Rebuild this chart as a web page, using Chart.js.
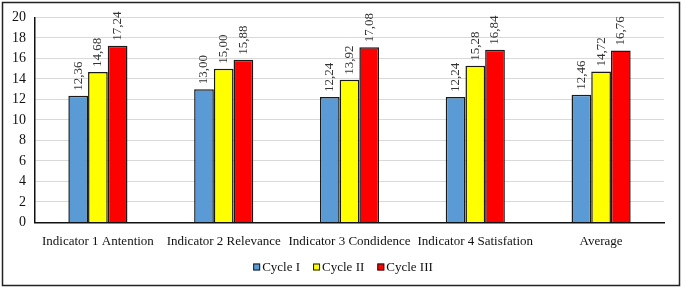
<!DOCTYPE html>
<html><head><meta charset="utf-8">
<script src="https://cdn.jsdelivr.net/npm/chart.js@4/dist/chart.umd.min.js"></script>
<style>html,body{margin:0;padding:0;background:#fff}#wrap{width:684px;height:297px;position:relative}</style>
</head><body><div id="wrap"><canvas id="c" width="684" height="297"></canvas></div>
<script>
const categories = ["Indicator 1 Antention","Indicator 2 Relevance","Indicator 3 Condidence","Indicator 4 Satisfation","Average"];
const seriesNames = ["Cycle I","Cycle II","Cycle III"];
const cycle1 = [12.36, 13.00, 12.24, 12.24, 12.46];
const cycle2 = [14.68, 15.00, 13.92, 15.28, 14.72];
const cycle3 = [17.24, 15.88, 17.08, 16.84, 16.76];
const yTicks = [0,2,4,6,8,10,12,14,16,18,20];
const colors = ["#5b9bd5","#ffff00","#ff0000"];

const frame = {
  id:'frame',
  beforeDraw(chart){
    const ctx=chart.ctx; ctx.save();
    ctx.fillStyle='#fff'; ctx.fillRect(0,0,chart.width,chart.height);
    ctx.strokeStyle='#222'; ctx.lineWidth=1.5;
    ctx.strokeRect(2.5,2.5,677,283);
    ctx.restore();
  }
};
const valueLabels = {
  id:'valueLabels',
  afterDatasetsDraw(chart){
    const ctx=chart.ctx; ctx.save();
    ctx.font='13px "Liberation Serif"'; ctx.fillStyle='#333';
    ctx.textAlign='left'; ctx.textBaseline='middle';
    chart.data.datasets.forEach((ds,i)=>{
      chart.getDatasetMeta(i).data.forEach((bar,j)=>{
        const txt=ds.data[j].toFixed(2).replace('.',',');
        ctx.save();
        ctx.translate(bar.x, bar.y-5);
        ctx.rotate(-Math.PI/2);
        ctx.fillText(txt,0,0);
        ctx.restore();
      });
    });
    ctx.restore();
  }
};
const legendBox = {
  id:'legendBox',
  afterDraw(chart){
    const ctx=chart.ctx; ctx.save();
    ctx.font='13px "Liberation Serif"'; ctx.textBaseline='middle'; ctx.textAlign='left';
    const box=7, gapT=2, gapI=13, cy=267;
    const items=chart.data.datasets.map(ds=>({t:ds.label,c:ds.backgroundColor,w:box+gapT+ctx.measureText(ds.label).width}));
    const total=items.reduce((s,it)=>s+it.w,0)+gapI*(items.length-1);
    let x=343-total/2;
    items.forEach(it=>{
      ctx.fillStyle=it.c; ctx.fillRect(x,cy-box/2,box,box);
      ctx.strokeStyle='#1a1a1a'; ctx.lineWidth=1; ctx.strokeRect(x+0.5,cy-box/2+0.5,box-1,box-1);
      ctx.fillStyle='#111'; ctx.fillText(it.t,x+box+gapT,cy+1);
      x+=it.w+gapI;
    });
    ctx.restore();
  }
};

new Chart(document.getElementById('c'),{
  type:'bar',
  data:{labels:categories,datasets:[cycle1,cycle2,cycle3].map((d,i)=>({
    label:seriesNames[i],data:d,backgroundColor:colors[i],borderColor:'#1a1a1a',borderWidth:1.5,
    categoryPercentage:0.47,barPercentage:1
  }))},
  options:{
    responsive:false,animation:false,
    layout:{padding:{left:3,right:20,top:15,bottom:45}},
    plugins:{
      legend:{display:false},
      tooltip:{enabled:false}
    },
    scales:{
      x:{grid:{display:false},border:{color:'#111',width:1.5},
         ticks:{color:'#111',font:{family:'"Liberation Serif"',size:13},maxRotation:0,autoSkip:false,padding:3}},
      y:{min:0,max:20,afterBuildTicks(ax){ax.ticks=yTicks.map(v=>({value:v}));},
         grid:{color:'#d9d9d9',drawTicks:false},border:{color:'#111',width:1.5},
         ticks:{color:'#111',font:{family:'"Liberation Serif"',size:14},padding:9,autoSkip:false}}
    }
  },
  plugins:[frame,valueLabels,legendBox]
});
</script></body></html>
